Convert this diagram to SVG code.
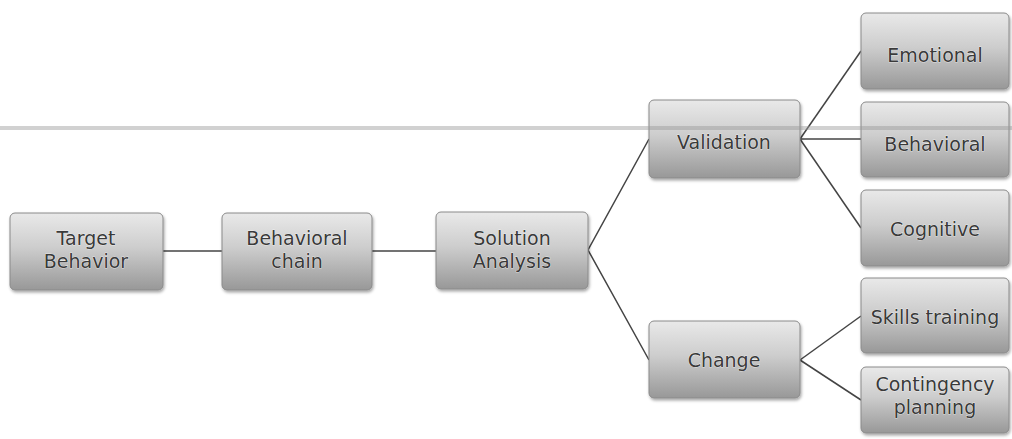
<svg xmlns="http://www.w3.org/2000/svg" width="1012" height="439" viewBox="0 0 1012 439">
<defs>
<linearGradient id="g" x1="0" y1="0" x2="0" y2="1">
<stop offset="0" stop-color="#e9e9e9"/>
<stop offset="0.45" stop-color="#cdcdcd"/>
<stop offset="1" stop-color="#989898"/>
</linearGradient>
<filter id="sh" x="-10%" y="-10%" width="130%" height="130%">
<feDropShadow dx="1" dy="2" stdDeviation="1.5" flood-color="#000" flood-opacity="0.35"/>
</filter>
</defs>
<style>
.box{fill:url(#g);stroke:#8a8a8a;stroke-width:1;filter:url(#sh)}
.t{font-family:"DejaVu Sans","Liberation Sans",sans-serif;font-size:19px;fill:#3a3a3a;text-anchor:middle;stroke:#fff;stroke-width:0.6;paint-order:stroke}
.c{stroke:#444;stroke-width:1.5;fill:none}
</style>
<rect width="1012" height="439" fill="#fff"/>
<g id="connectors">
<line class="c" x1="163" y1="251" x2="222" y2="251"/>
<line class="c" x1="372" y1="251" x2="436" y2="251"/>
<polyline class="c" points="649,139 588,250 649,360"/>
<line class="c" x1="800" y1="139" x2="861" y2="51"/>
<line class="c" x1="800" y1="139" x2="861" y2="139"/>
<line class="c" x1="800" y1="139" x2="861" y2="228"/>
<line class="c" x1="800" y1="360" x2="861" y2="316"/>
<line class="c" x1="800" y1="360" x2="861" y2="400"/>
</g>
<g id="n1"><rect class="box" x="10" y="213" width="153" height="77" rx="5"/><text class="t" x="86" y="245">Target</text><text class="t" x="86" y="268">Behavior</text></g>
<g id="n2"><rect class="box" x="222" y="213" width="150" height="77" rx="5"/><text class="t" x="297" y="245">Behavioral</text><text class="t" x="297" y="268">chain</text></g>
<g id="n3"><rect class="box" x="436" y="212" width="152" height="77" rx="5"/><text class="t" x="512" y="245">Solution</text><text class="t" x="512" y="268">Analysis</text></g>
<g id="n4"><rect class="box" x="649" y="100" width="151" height="78" rx="5"/><text class="t" x="724" y="149">Validation</text></g>
<g id="n5"><rect class="box" x="649" y="321" width="151" height="77" rx="5"/><text class="t" x="724" y="367">Change</text></g>
<g id="n6"><rect class="box" x="861" y="13" width="148" height="76" rx="5"/><text class="t" x="935" y="62">Emotional</text></g>
<g id="n7"><rect class="box" x="861" y="102" width="148" height="75" rx="5"/><text class="t" x="935" y="151">Behavioral</text></g>
<g id="n8"><rect class="box" x="861" y="190" width="148" height="76" rx="5"/><text class="t" x="935" y="236">Cognitive</text></g>
<g id="n9"><rect class="box" x="861" y="278" width="148" height="75" rx="5"/><text class="t" x="935" y="324">Skills training</text></g>
<g id="n10"><rect class="box" x="861" y="367" width="148" height="66" rx="5"/><text class="t" x="935" y="391">Contingency</text><text class="t" x="935" y="414">planning</text></g>
<rect x="0" y="126" width="1012" height="4" fill="#9a9a9a" opacity="0.45"/>
</svg>
